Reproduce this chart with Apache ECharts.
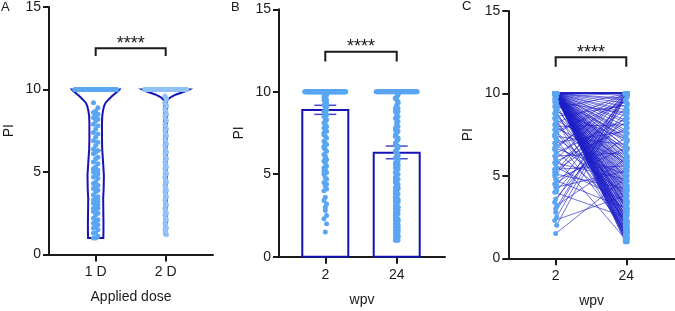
<!DOCTYPE html>
<html>
<head>
<meta charset="utf-8">
<script src="https://cdn.jsdelivr.net/npm/echarts@6/dist/echarts.min.js"></script>
<style>
  html, body { margin: 0; padding: 0; background: #fff; }
  #chart { width: 675px; height: 311px; }
</style>
</head>
<body>
<div id="chart"></div>
<script>
// ---- data ----
var doseCategories = ['1 D', '2 D'];
var wpvCategories = ['2', '24'];
var panelLetters = ['A', 'B', 'C'];
var sigLabels = ['****', '****', '****'];

// panel A: PI per applied dose
var dose1Values = [
  10, 10, 10, 10, 10, 10, 10, 10, 10, 10, 10, 10, 10, 10, 10,
  10, 10, 10, 10, 10, 10, 10, 10, 10, 10, 10, 10, 10, 10, 10,
  1.0, 1.0, 1.1, 1.3, 1.3, 1.5, 1.6, 1.7, 1.8, 1.9, 2.0, 2.1, 2.2, 2.4, 2.5,
  2.6, 2.7, 2.8, 2.8, 2.9, 3.0, 3.1, 3.1, 3.2, 3.3,
  3.4, 3.5, 3.6, 3.8, 3.9, 4.0, 4.1, 4.2, 4.3, 4.4, 4.6, 4.7, 4.8, 4.9, 5.0,
  5.0, 5.1, 5.2, 5.3, 5.5, 5.6, 5.8, 5.9, 6.1, 6.2,
  6.3, 6.4, 6.6, 6.8, 6.9, 7.1, 7.3, 7.4, 7.6, 7.8, 7.9, 8.1, 8.2, 8.3, 8.4,
  8.5, 8.6, 8.7, 8.9, 9.2
];
var dose2Values = [
  10, 10, 10, 10, 10, 10, 10, 10, 10, 10, 10, 10, 10, 10, 10, 10, 10, 10, 10, 10,
  10, 10, 10, 10, 10, 10, 10, 10, 10, 10, 10, 10, 10, 10, 10, 10, 10, 10, 10, 10,
  10, 10, 10, 10, 10, 10, 10, 10, 10, 10, 10, 10, 10, 10, 10, 10, 10, 10, 10, 10,
  10, 10, 10, 10, 10, 10, 10, 10, 10, 10, 10, 10, 10, 10, 10, 10, 10, 10, 10, 10,
  9.6, 9.5, 9.4, 9.2, 9.1, 9.0, 8.8, 8.7, 8.5, 8.4, 8.2, 8.1, 7.9, 7.8, 7.6,
  7.5, 7.3, 7.2, 7.0, 6.9, 6.7, 6.6, 6.4, 6.2, 6.1, 5.9, 5.8, 5.6, 5.5, 5.3,
  5.2, 5.0, 4.9, 4.7, 4.5, 4.4, 4.2, 4.1, 3.9, 3.8, 3.6, 3.5, 3.3, 3.1, 3.0,
  2.8, 2.7, 2.5, 2.4, 2.2, 2.1, 1.9, 1.8, 1.6, 1.5, 1.4, 1.2
];

// violin outlines (half width in axis units at each PI level)
var violin1Levels = [10, 9.9, 9.8, 9.6, 9.4, 9.2, 9.0, 8.7, 8.4, 8.0, 7.0, 6.4, 5.5, 4.8, 4.0, 3.4, 2.6, 2.0, 1.4, 1.0];
var violin1Widths = [0.34, 0.32, 0.29, 0.235, 0.185, 0.142, 0.12, 0.104, 0.094, 0.09, 0.09, 0.093, 0.107, 0.117, 0.114, 0.107, 0.109, 0.111, 0.111, 0.109];
var violin2Levels = [10, 9.9, 9.8, 9.7, 9.6, 9.5, 9.4, 9.3, 5.0, 1.2];
var violin2Widths = [0.335, 0.29, 0.22, 0.15, 0.1, 0.06, 0.035, 0.02, 0.015, 0.015];
var violin1Quartiles = [6.3, 3.35];

// panels B and C: paired PI at 2 and 24 wpv (same subject order)
var wpv2Values = [
  10, 10, 10, 10, 10, 10, 10, 10, 10, 10, 10, 10, 10, 10, 10,
  10, 10, 10, 10, 10, 10, 10, 10, 10, 10, 10, 10, 10, 10, 10,
  10, 10, 10, 10, 10, 10, 10, 10, 10, 10, 10, 10, 10, 10, 10,
  10, 10, 10, 10, 10, 10, 10, 10, 10, 10, 10, 10, 10, 10, 10,
  10, 10, 10, 10, 10, 10, 10, 10, 10, 10, 10, 10, 10, 10, 10,
  10, 10, 10, 10, 10, 10, 10, 10, 10, 10, 10, 10, 10, 10, 10,
  10, 10, 10, 10, 10, 10, 10, 10, 10, 10, 10, 10, 10, 10, 10,
  10, 10, 10, 10, 10, 10, 10, 10, 10, 10, 10, 10, 10, 10, 10,
  10, 10, 10, 10, 10, 10, 10, 10, 10, 10, 10, 10, 10, 10, 10,
  7.5, 6.0, 4.4, 3.4, 2.8, 2.0, 5.2, 8.2, 9.1, 6.6, 3.0, 2.5,
  9.9, 9.8, 9.8, 9.7, 9.6, 9.5, 9.5, 9.4, 9.3, 9.2, 9.0, 8.9, 8.8, 8.7, 8.6, 8.5, 8.4, 8.3, 8.1, 8.0,
  7.9, 7.8, 7.7, 7.6, 7.4, 7.3, 7.2, 7.0, 6.9, 6.8, 6.7, 6.5, 6.4, 6.2, 6.1, 5.9, 5.8, 5.7, 5.5, 5.4,
  5.3, 5.1, 5.0, 4.8, 4.7, 4.5, 4.3, 4.1, 4.0, 3.6, 3.2, 2.3, 1.5
];
var wpv24Values = [
  10, 10, 10, 10, 10, 10, 10, 10, 10, 10, 10, 10, 10, 10, 10, 10,
  10, 10, 10, 10, 10, 10, 10, 10, 10, 10, 10, 10, 10, 10, 10, 10,
  10, 10, 10, 10, 10, 10, 10, 10, 10, 10, 10, 10, 10, 10, 10, 10,
  1.0, 1.0, 1.0, 1.1, 1.1, 1.2, 1.2, 1.3, 1.3, 1.4,
  1.5, 1.5, 1.6, 1.7, 1.7, 1.8, 1.9, 1.9, 2.0, 2.1,
  2.1, 2.2, 2.3, 2.3, 2.4, 2.5, 2.6, 2.6, 2.7, 2.8,
  2.9, 3.0, 3.0, 3.1, 3.2, 3.3, 3.4, 3.5, 3.5, 3.6,
  3.7, 3.8, 3.9, 4.0, 4.1, 4.2, 4.3, 4.4, 4.5, 4.6,
  4.7, 4.8, 4.9, 5.0, 5.1, 5.2, 5.3, 5.4, 5.5, 5.6,
  5.7, 5.8, 5.9, 6.0, 6.1, 6.2, 6.4, 6.5, 6.7, 6.8,
  7.0, 7.1, 7.3, 7.5, 7.6, 7.8, 8.0, 8.2, 8.4, 8.6,
  8.8, 9.0, 9.2, 9.4, 9.6, 9.7, 9.9,
  10, 10, 10, 10, 10, 10, 10, 10, 10, 10, 10, 10,
  2.4, 6.3, 1.8, 7.4, 3.1, 5.5, 8.8, 2.0, 6.6, 4.0, 1.4, 7.2, 3.6, 5.0, 9.3, 2.7, 6.0, 1.2, 4.6, 8.1,
  5.8, 3.3, 9.5, 2.2, 6.9, 4.4, 1.6, 7.7, 3.9, 9.8, 5.1, 2.9, 8.5, 6.4, 1.1, 7.9, 4.8, 9.1, 3.4, 5.6,
  8.3, 4.2, 9.6, 6.7, 3.0, 7.3, 5.3, 9.0, 2.5, 8.7, 6.1, 3.8, 4.9
];
var wpvMeans = [8.9, 6.3];
var wpvErrLow = [8.63, 5.94];
var wpvErrHigh = [9.18, 6.71];

// significance brackets per panel: bar level, leg end, star centre
var bracketLevels = [12.5, 12.43, 12.19];
var bracketLegEnds = [12.03, 11.83, 11.62];
var starLevels = [13.0, 12.96, 12.69];

// ---- look ----
var FONT = '"Liberation Sans", Arial, Helvetica, sans-serif';
var INK = '#1a1a1a';
var NAVY = '#1414b4';
var DOT = '#5aa6f2';
var DOT_LIGHT = '#91c3f7';

var grids = [
  { left: 49, top: 7, width: 164, height: 247.5 },
  { left: 279, top: 9.3, width: 166, height: 247.4 },
  { left: 508.3, top: 11, width: 166.7, height: 247.3 }
];
var xRanges = [[0.333, 2.676], [0.352, 2.676], [0.329, 2.69]];

function pxPerUnit(g) {
  return grids[g].width / (xRanges[g][1] - xRanges[g][0]);
}

// simple swarm: big ties spread sideways, the rest wobble in a thin column
function swarm(values, center, g, tieSpread, colJitter) {
  var counts = {};
  values.forEach(function (v) { counts[v] = (counts[v] || 0) + 1; });
  var seen = {};
  var k = 0;
  var ppu = pxPerUnit(g);
  return values.map(function (v) {
    var n = counts[v];
    seen[v] = seen[v] === undefined ? 0 : seen[v] + 1;
    var dx;
    if (n > 3 && tieSpread > 0) {
      dx = (seen[v] / (n - 1) - 0.5) * 2 * tieSpread;
    } else {
      dx = ((k++ % 3) - 1) * colJitter;
    }
    return [center + dx / ppu, v];
  });
}

function xAxisFor(g, labels, name, gap) {
  return {
    type: 'value', gridIndex: g, min: xRanges[g][0], max: xRanges[g][1],
    name: name, nameLocation: 'middle', nameGap: gap,
    nameTextStyle: { fontFamily: FONT, fontSize: 14, color: INK },
    axisLine: { show: true, onZero: false, lineStyle: { color: INK, width: 2 } },
    axisTick: { show: true, customValues: [1, 2], length: 7, lineStyle: { color: INK, width: 2 } },
    axisLabel: {
      customValues: [1, 2], margin: 11, fontFamily: FONT, fontSize: 14, color: INK,
      formatter: function (v) { return labels[Math.round(v) - 1]; }
    },
    splitLine: { show: false }
  };
}

function yAxisFor(g) {
  return {
    type: 'value', gridIndex: g, min: 0, max: 15, interval: 5,
    name: 'PI', nameLocation: 'middle', nameGap: 33,
    nameTextStyle: { fontFamily: FONT, fontSize: 14, color: INK },
    axisLine: { show: true, onZero: false, lineStyle: { color: INK, width: 2 } },
    axisTick: { show: true, length: 6, lineStyle: { color: INK, width: 2 } },
    axisLabel: { margin: 8, fontFamily: FONT, fontSize: 14, color: INK },
    splitLine: { show: false }
  };
}

function scatter(g, data, color) {
  return {
    type: 'scatter', xAxisIndex: g, yAxisIndex: g, data: data,
    symbolSize: 5, silent: true,
    itemStyle: { color: color, opacity: 1 }
  };
}

function bracket(g) {
  return {
    type: 'custom', xAxisIndex: g, yAxisIndex: g, silent: true,
    data: [[1, 2, bracketLevels[g], bracketLegEnds[g], starLevels[g]]],
    renderItem: function (params, api) {
      var x0 = api.value(0), x1 = api.value(1);
      var a = api.coord([x0, api.value(3)]);
      var b = api.coord([x0, api.value(2)]);
      var c = api.coord([x1, api.value(2)]);
      var d = api.coord([x1, api.value(3)]);
      var s = api.coord([(x0 + x1) / 2, api.value(4)]);
      return {
        type: 'group',
        children: [
          { type: 'polyline', shape: { points: [a, b, c, d] }, style: { stroke: INK, lineWidth: 2, fill: null } },
          {
            type: 'text', x: s[0], y: s[1] + 4,
            style: { text: sigLabels[g], fontFamily: FONT, fontSize: 18, fill: INK, align: 'center', verticalAlign: 'middle' }
          }
        ]
      };
    }
  };
}

var violins = [
  { levels: violin1Levels, widths: violin1Widths, quartiles: violin1Quartiles },
  { levels: violin2Levels, widths: violin2Widths, quartiles: [] }
];

function widthAt(p, lv) {
  for (var i = 0; i < p.levels.length - 1; i++) {
    var a = p.levels[i], b = p.levels[i + 1];
    if (lv <= a && lv >= b) {
      var t = (a - lv) / (a - b);
      return p.widths[i] + t * (p.widths[i + 1] - p.widths[i]);
    }
  }
  return p.widths[p.widths.length - 1];
}

var series = [];

// panel A
series.push({
  type: 'custom', xAxisIndex: 0, yAxisIndex: 0, silent: true,
  data: [[1], [2]],
  renderItem: function (params, api) {
    var c = api.value(0);
    var p = violins[params.dataIndex];
    var right = p.levels.map(function (lv, i) { return api.coord([c + p.widths[i], lv]); });
    var left = p.levels.map(function (lv, i) { return api.coord([c - p.widths[i], lv]); }).reverse();
    var children = [{
      type: 'polygon', shape: { points: right.concat(left) },
      style: { fill: 'none', stroke: NAVY, lineWidth: 2 }
    }];
    p.quartiles.forEach(function (q) {
      var w = widthAt(p, q);
      var l = api.coord([c - w, q]), r = api.coord([c + w, q]);
      children.push({
        type: 'line', shape: { x1: l[0], y1: l[1], x2: r[0], y2: r[1] },
        style: { stroke: '#555', lineWidth: 1, lineDash: [1.5, 2] }
      });
    });
    return { type: 'group', children: children };
  }
});
series.push(scatter(0, swarm(dose1Values, 1, 0, 21, 2.2), DOT));
series.push(scatter(0, swarm(dose2Values, 2, 0, 21, 0.8), DOT_LIGHT));
series.push(bracket(0));

// panel B
series.push({
  type: 'custom', xAxisIndex: 1, yAxisIndex: 1, silent: true,
  data: wpvMeans.map(function (m, i) { return [i + 1, m]; }),
  renderItem: function (params, api) {
    var x = api.value(0);
    var tl = api.coord([x - 0.322, api.value(1)]);
    var br = api.coord([x + 0.322, 0]);
    return {
      type: 'rect',
      shape: { x: tl[0], y: tl[1], width: br[0] - tl[0], height: br[1] - tl[1] },
      style: { fill: '#fff', stroke: NAVY, lineWidth: 2 }
    };
  }
});
series.push({
  type: 'custom', xAxisIndex: 1, yAxisIndex: 1, silent: true,
  data: wpvMeans.map(function (m, i) { return [i + 1, wpvErrLow[i], wpvErrHigh[i]]; }),
  renderItem: function (params, api) {
    var lo = api.coord([api.value(0), api.value(1)]);
    var hi = api.coord([api.value(0), api.value(2)]);
    var cap = 11;
    var st = { stroke: '#4646d2', lineWidth: 1.5 };
    return {
      type: 'group',
      children: [
        { type: 'line', shape: { x1: lo[0], y1: lo[1], x2: hi[0], y2: hi[1] }, style: st },
        { type: 'line', shape: { x1: lo[0] - cap, y1: lo[1], x2: lo[0] + cap, y2: lo[1] }, style: st },
        { type: 'line', shape: { x1: hi[0] - cap, y1: hi[1], x2: hi[0] + cap, y2: hi[1] }, style: st }
      ]
    };
  }
});
series.push(scatter(1, swarm(wpv2Values, 1, 1, 20.5, 1.3), DOT));
series.push(scatter(1, swarm(wpv24Values, 2, 1, 20.5, 1.3), DOT));
series.push(bracket(1));

// panel C
var pts2 = swarm(wpv2Values, 1, 2, 0, 1.0);
var pts24 = swarm(wpv24Values, 2, 2, 0, 1.0);
series.push({
  type: 'custom', xAxisIndex: 2, yAxisIndex: 2, silent: true,
  data: wpv2Values.map(function (v, i) { return [pts2[i][0], v, pts24[i][0], wpv24Values[i]]; }),
  renderItem: function (params, api) {
    var a = api.coord([api.value(0), api.value(1)]);
    var b = api.coord([api.value(2), api.value(3)]);
    return {
      type: 'line', shape: { x1: a[0], y1: a[1], x2: b[0], y2: b[1] },
      style: { stroke: '#1e1ec8', lineWidth: 0.8, opacity: 0.8 }
    };
  }
});
series.push(scatter(2, pts2, DOT));
series.push(scatter(2, pts24, DOT));
series.push(bracket(2));

var chart = echarts.init(document.getElementById('chart'));
chart.setOption({
  animation: false,
  backgroundColor: '#fff',
  grid: grids.map(function (g) {
    return { left: g.left, top: g.top, width: g.width, height: g.height, containLabel: false, outerBoundsMode: 'none' };
  }),
  xAxis: [
    xAxisFor(0, doseCategories, 'Applied dose', 36),
    xAxisFor(1, wpvCategories, 'wpv', 36),
    xAxisFor(2, wpvCategories, 'wpv', 36)
  ],
  yAxis: [yAxisFor(0), yAxisFor(1), yAxisFor(2)],
  graphic: [
    { type: 'text', left: 1, top: 1, style: { text: panelLetters[0], fontFamily: FONT, fontSize: 13, fill: INK } },
    { type: 'text', left: 231, top: 1, style: { text: panelLetters[1], fontFamily: FONT, fontSize: 13, fill: INK } },
    { type: 'text', left: 462, top: 0, style: { text: panelLetters[2], fontFamily: FONT, fontSize: 13, fill: INK } }
  ],
  series: series
});
</script>
</body>
</html>
